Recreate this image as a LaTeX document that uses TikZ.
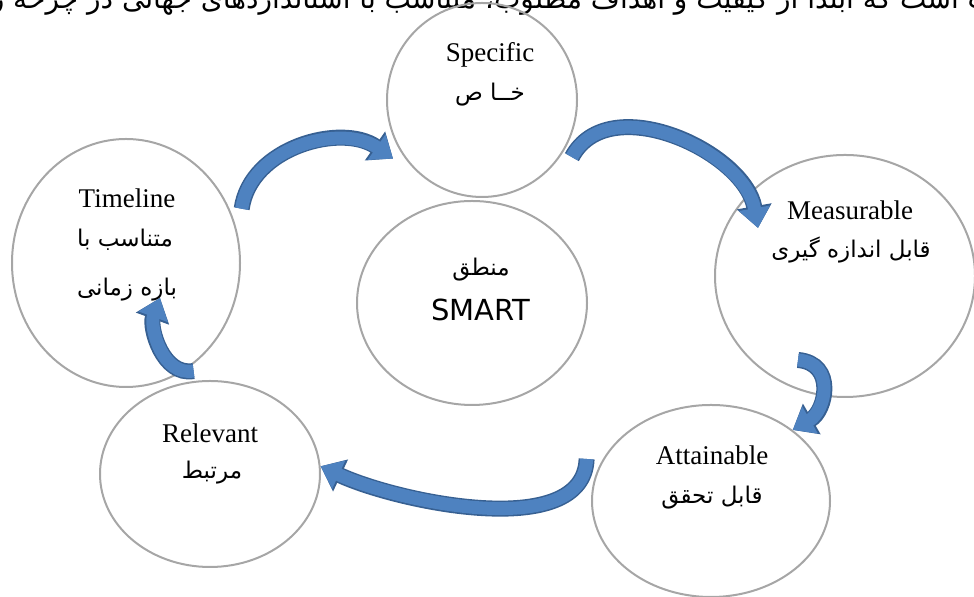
\documentclass[tikz,border=0pt]{standalone}
\usepackage{fontspec}
\setmainfont{Liberation Serif}
\newfontfamily\farsifont[Script=Arabic]{DejaVu Sans}
\newfontfamily\smartfont{DejaVu Sans}
\TeXXeTstate=1
\usetikzlibrary{arrows.meta,shapes.geometric}
\definecolor{RingGray}{RGB}{166,166,166}
\definecolor{ArrowBlue}{RGB}{78,130,192}
\definecolor{ArrowEdge}{RGB}{55,96,146}
\newcommand{\fa}[1]{\beginR #1\endR}

\begin{document}
\begin{tikzpicture}[
  x=0.5pt,y=0.5pt,
  ring/.style={draw=RingGray,line width=1pt,ellipse,inner sep=0pt},
  entext/.style={font=\fontsize{13.5}{15}\selectfont,inner sep=0pt},
  fatext/.style={font=\fontsize{11.5}{14}\farsifont,inner sep=0pt},
  flow/.style={line width=6.5pt,draw=ArrowBlue,-{Triangle[length=10pt,width=15pt]},
    preaction={draw=ArrowEdge,line width=8pt,-{Triangle[length=11pt,width=17pt]}}}]
\path[use as bounding box] (0,0) rectangle (974,597);
\node[font=\fontsize{14}{16}\farsifont,anchor=base] (topline) at (487,588)
  {\fa{اهمیت است که ابتدا از کیفیت و اهداف مطلوب، متناسب با استانداردهای جهانی در چرخه زندگی}};
\node[ring,minimum width=95pt,minimum height=97pt] (spec) at (482,497) {};
\node[ring,minimum width=115pt,minimum height=102pt] (smart) at (472,294) {};
\node[ring,minimum width=114pt,minimum height=124pt] (time) at (126,334) {};
\node[ring,minimum width=130pt,minimum height=121pt] (meas) at (845,321) {};
\node[ring,minimum width=119pt,minimum height=96pt] (attn) at (711,96) {};
\node[ring,minimum width=110pt,minimum height=93pt] (relv) at (210,123) {};
\node[entext] (specEn) at (490,542) {Specific};
\node[fatext] (specFa) at (490,502) {\fa{خــا ص}};
\node[fatext] (smartFa) at (481,327) {\fa{منطق}};
\node[font=\fontsize{14.5}{17}\smartfont,inner sep=0pt] (smartEn) at (481,287) {SMART};
\node[entext] (measEn) at (850,387) {Measurable};
\node[fatext] (measFa) at (851,347) {\fa{قابل اندازه گیری}};
\node[entext] (attnEn) at (712,142) {Attainable};
\node[fatext] (attnFa) at (712,99) {\fa{قابل تحقق}};
\node[entext] (relvEn) at (210,164) {Relevant};
\node[fatext] (relvFa) at (212,124) {\fa{مرتبط}};
\node[entext] (timeEn) at (127,399) {Timeline};
\node[fatext] (timeFa) at (125,357) {\fa{متناسب با}};
\node[fatext] (timeFb) at (127,307) {\fa{بازه زمانی}};
\draw[flow] ([shift={(10,5)}]time.25) to[out=82,in=145] ([shift={(-8,-6)}]spec.213);
\draw[flow] ([shift={(8,-6)}]spec.328) to[out=62,in=100] ([shift={(-87,48)}]meas.center);
\draw[flow] ([shift={(-47,-84)}]meas.center) to[out=-5,in=30,looseness=1.4] (attn.41);
\draw[flow] ([shift={(-14,4)}]attn.161) to[out=-92,in=-25,looseness=0.8] (relv.4);
\draw[flow] ([shift={(0,10)}]relv.100) to[out=190,in=-110] ([shift={(34,-35)}]time.center);
\end{tikzpicture}
\end{document}
